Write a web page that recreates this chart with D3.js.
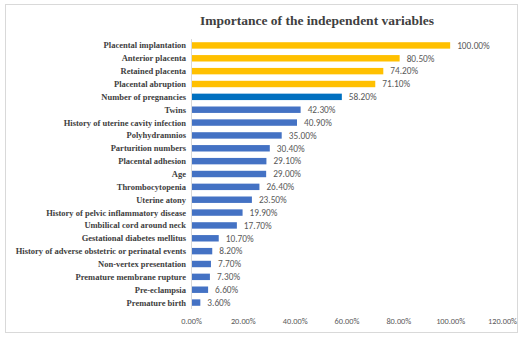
<!DOCTYPE html>
<html><head><meta charset="utf-8">
<script src="https://cdn.jsdelivr.net/npm/d3@7"></script>
<style>body{margin:0;background:#fff}svg{display:block}</style>
</head><body>
<svg id="c" width="523" height="337"></svg>
<script>
const labels = ["Placental implantation","Anterior placenta","Retained placenta","Placental abruption","Number of pregnancies","Twins","History of uterine cavity infection","Polyhydramnios","Parturition numbers","Placental adhesion","Age","Thrombocytopenia","Uterine atony","History of pelvic inflammatory disease","Umbilical cord around neck","Gestational diabetes mellitus","History of adverse obstetric or perinatal events","Non-vertex presentation","Premature membrane rupture","Pre-eclampsia","Premature birth"];
const values = [100.0,80.5,74.2,71.1,58.2,42.3,40.9,35.0,30.4,29.1,29.0,26.4,23.5,19.9,17.7,10.7,8.2,7.7,7.3,6.6,3.6];
const groups = ["top","top","top","top","mid","low","low","low","low","low","low","low","low","low","low","low","low","low","low","low","low"];
const tickValues = [0,20,40,60,80,100,120];
const colors = {top:"#FFC000", mid:"#0070C0", low:"#4472C4"};

const svg = d3.select("#c");
svg.append("rect").attr("x",5.5).attr("y",4.5).attr("width",512).attr("height",328)
  .attr("fill","#fff").attr("stroke","#d9d9d9");

svg.append("text").attr("x",317).attr("y",25).attr("text-anchor","middle")
  .attr("font-family","Liberation Serif, Times New Roman, serif").attr("font-weight","bold")
  .attr("font-size",13.5).attr("fill","#404040").text("Importance of the independent variables");

const x = d3.scaleLinear().domain([0,120]).range([191,502]);
const y = d3.scaleBand().domain(labels).range([39,309]).paddingInner(0.5).paddingOuter(0.25);

const data = labels.map((l,i)=>({l, v:values[i], g:groups[i]}));

svg.selectAll("rect.bar").data(data).enter().append("rect").attr("class","bar")
  .attr("x",x(0)).attr("y",d=>y(d.l)).attr("width",d=>x(d.v)-x(0)).attr("height",y.bandwidth())
  .attr("fill",d=>colors[d.g]);

svg.selectAll("text.val").data(data).enter().append("text").attr("class","val")
  .attr("x",d=>x(d.v)+7).attr("y",d=>y(d.l)+y.bandwidth()/2).attr("dy","0.35em")
  .attr("font-family","Carlito, Liberation Sans, Arial, sans-serif").attr("font-size",9.3)
  .attr("fill","#595959").text(d=>d.v.toFixed(2)+"%");

svg.selectAll("text.cat").data(data).enter().append("text").attr("class","cat")
  .attr("x",186).attr("y",d=>y(d.l)+y.bandwidth()/2).attr("dy","0.35em").attr("text-anchor","end")
  .attr("font-family","Liberation Serif, Times New Roman, serif").attr("font-weight","bold")
  .attr("font-size",8.5).attr("fill","#404040").text(d=>d.l);

svg.append("line").attr("x1",x(0)+0.5).attr("x2",x(0)+0.5).attr("y1",39).attr("y2",309)
  .attr("stroke","#d9d9d9");

const ax = svg.append("g").attr("transform","translate(0,321)")
  .call(d3.axisBottom(x).tickValues(tickValues).tickSize(0).tickFormat(d=>d.toFixed(2)+"%"));
ax.select(".domain").remove();
ax.selectAll("text").attr("dy","0.35em").attr("y",0)
  .attr("font-family","Carlito, Liberation Sans, Arial, sans-serif").attr("font-size",8.3).attr("fill","#595959");
</script>
</body></html>
